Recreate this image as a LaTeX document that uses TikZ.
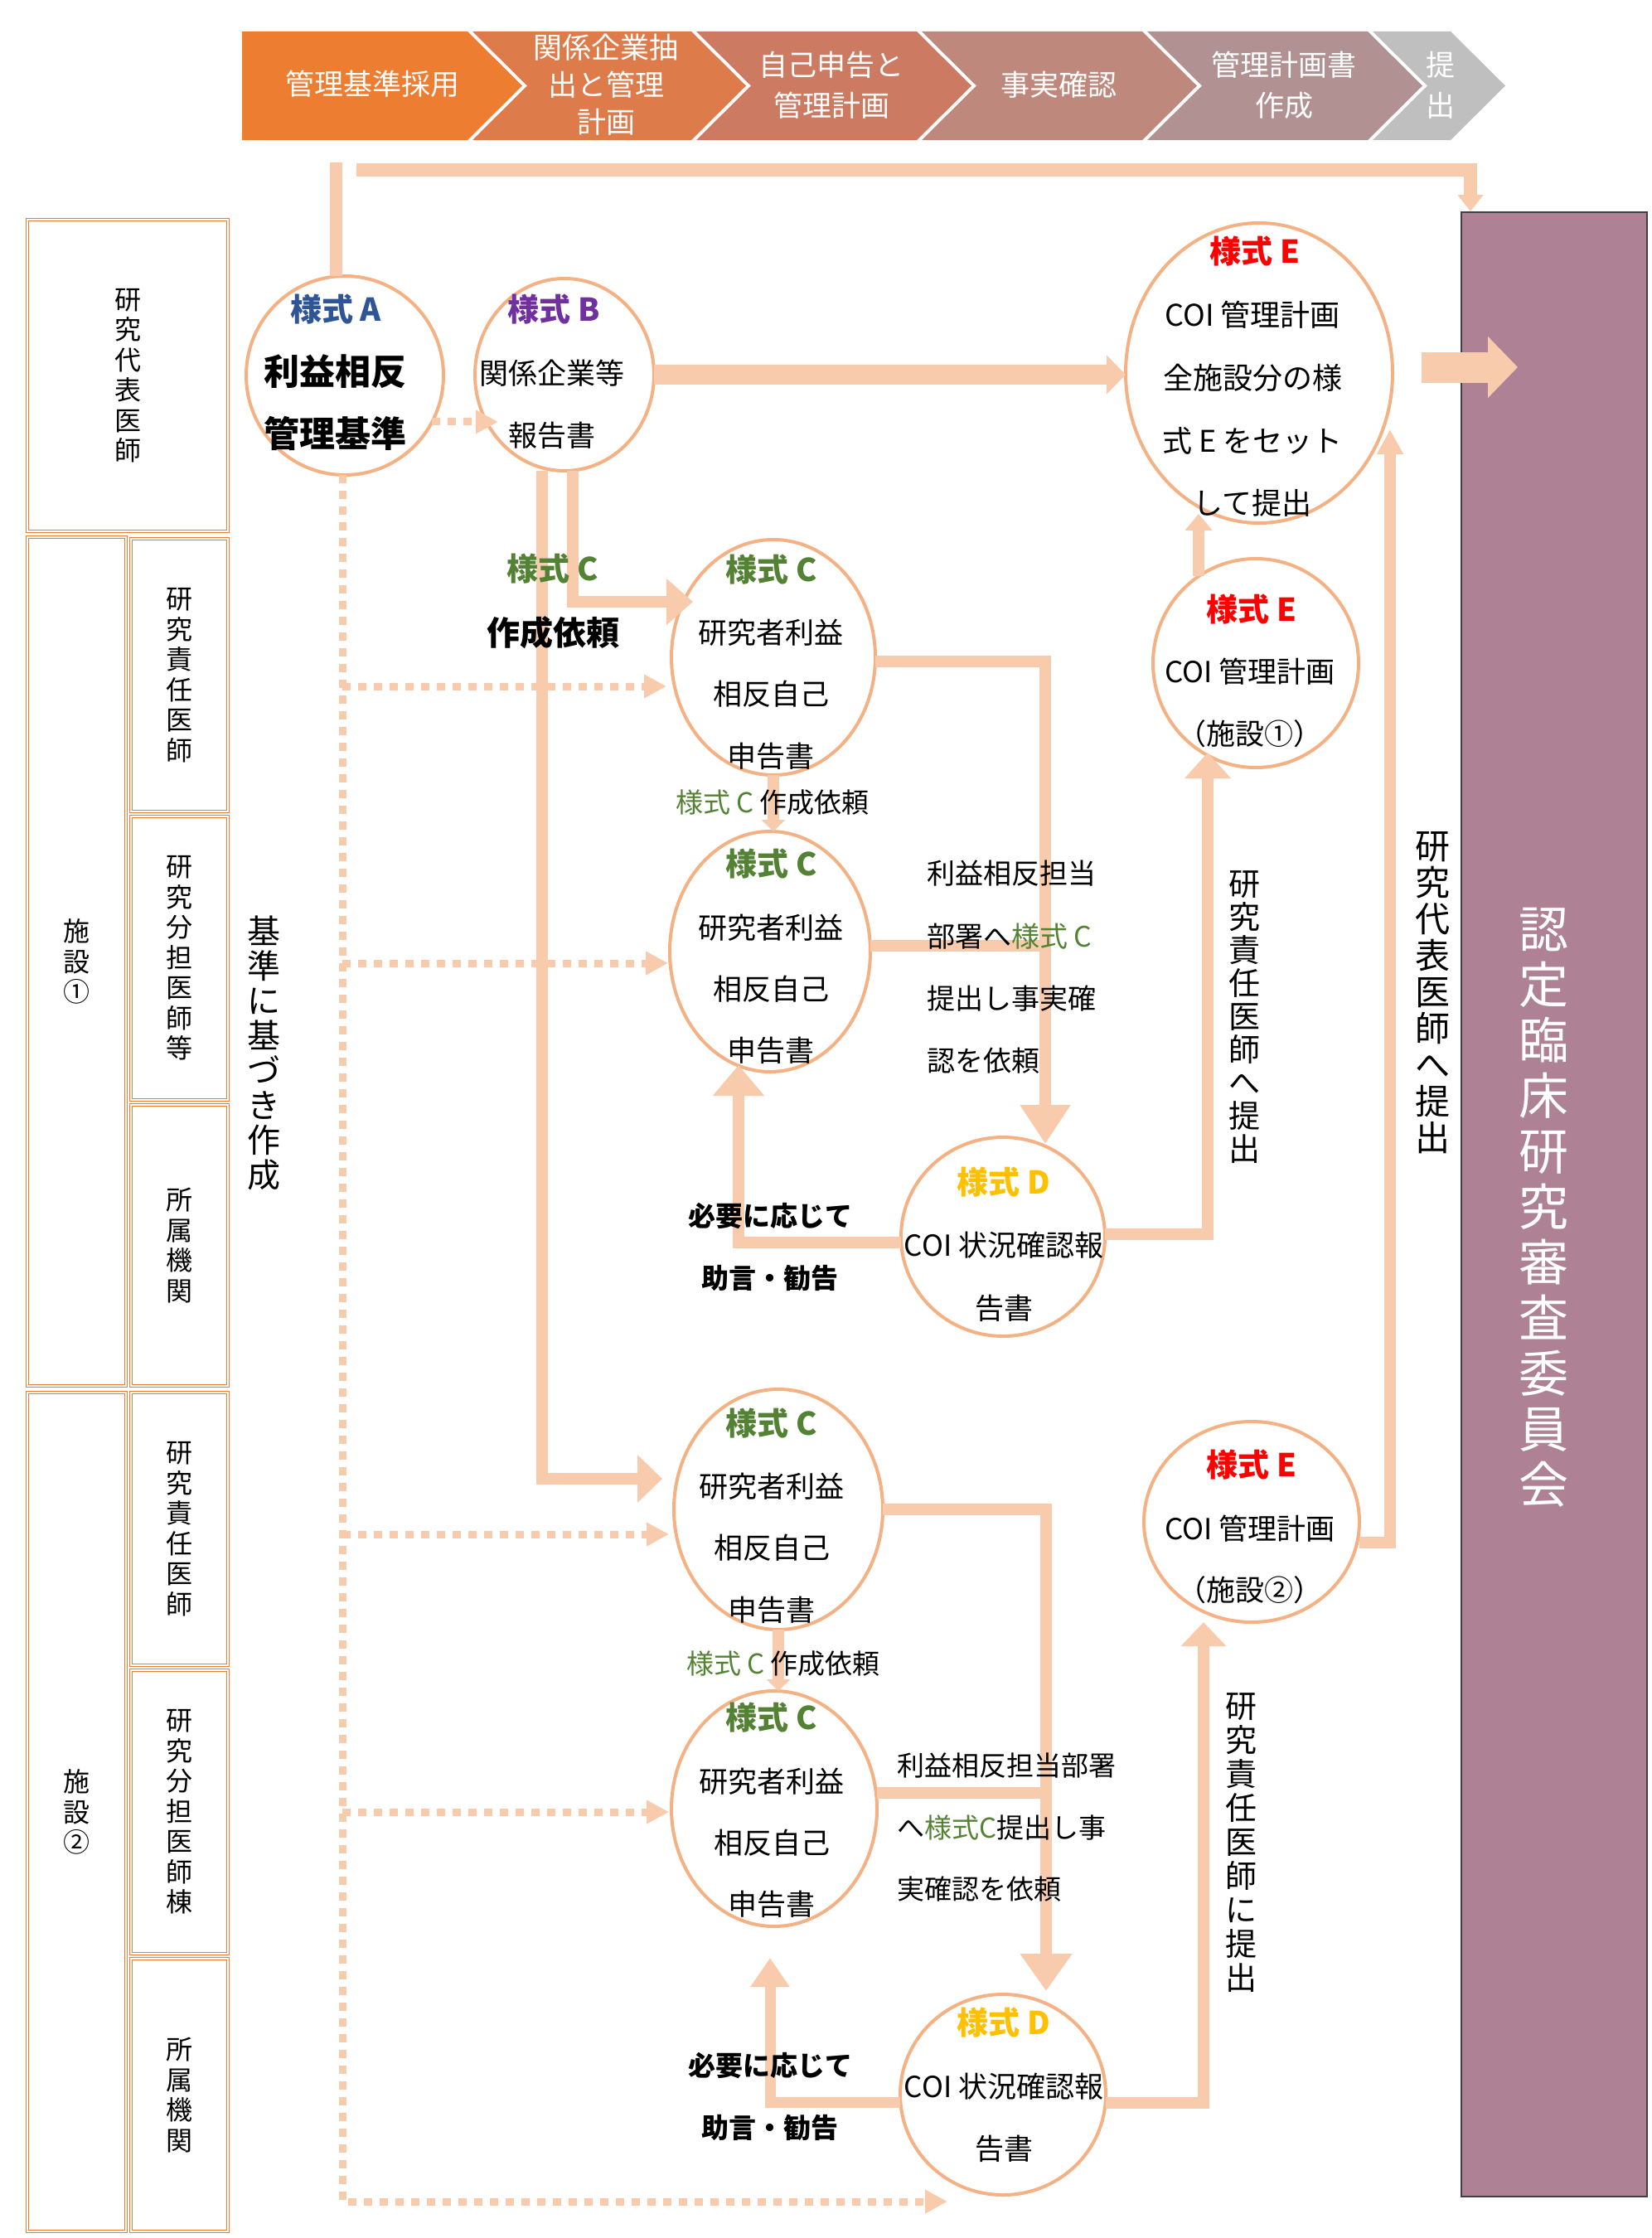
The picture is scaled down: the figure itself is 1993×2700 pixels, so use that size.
\documentclass[tikz,border=0pt]{standalone}
\usepackage{fontspec}
\setmainfont{Noto Sans CJK JP}
\setsansfont{Noto Sans CJK JP}
\usetikzlibrary{shapes.geometric,arrows.meta}
\definecolor{barc}{HTML}{F8CBAD}
\definecolor{ering}{HTML}{F4B183}
\definecolor{tabc}{HTML}{ED7D31}
\definecolor{cmp}{RGB}{174,129,148}
\definecolor{boxline}{HTML}{3F3F3F}
\definecolor{fA}{HTML}{2F5597}
\definecolor{fB}{HTML}{7030A0}
\definecolor{fC}{HTML}{548235}
\definecolor{fD}{HTML}{FFC000}
\definecolor{fE}{HTML}{FF0000}
\definecolor{chA}{HTML}{ED7D31}
\definecolor{chB}{HTML}{DE7B4B}
\definecolor{chC}{HTML}{CC7B62}
\definecolor{chD}{HTML}{BE897C}
\definecolor{chE}{HTML}{B19191}
\definecolor{chF}{HTML}{BFBFBF}
\newcommand{\myfs}[2]{\fontsize{#1}{#2}\selectfont}
\tikzset{
  oval/.style={ellipse, draw=ering, line width=4pt, fill=white, inner sep=0pt, outer sep=0pt},
  cell/.style={rectangle, draw=tabc, double=white, double distance=1.6pt, line width=1.3pt,
               inner sep=0pt, align=center, font=\myfs{32}{36.5}},
  bar/.style={draw=barc, line width=14pt},
  dots/.style={draw=barc, line width=9pt, dash pattern=on 10pt off 9pt,
               -{Triangle[width=27pt,length=27pt]}},
  form/.style={font=\bfseries\myfs{38}{40}, inner sep=0pt},
  body/.style={font=\myfs{35}{75}, align=center, inner sep=0pt},
  chev/.style={text=white, font=\myfs{35}{45}, align=center, inner sep=0pt},
  vtxt/.style={align=center, inner sep=0pt},
}
\begin{document}
\begin{tikzpicture}[x=1pt,y=-1pt]
\useasboundingbox (0,0) rectangle (1993,2700);

% ---------- chevron band ----------
\fill[chA] (292,38) -- (564,38) -- (630,103.5) -- (564,169) -- (292,169) -- cycle;
\fill[chB] (570,38) -- (834,38) -- (900,103.5) -- (834,169) -- (570,169) -- (636,103.5) -- cycle;
\fill[chC] (840,38) -- (1106,38) -- (1172,103.5) -- (1106,169) -- (840,169) -- (906,103.5) -- cycle;
\fill[chD] (1112,38) -- (1378,38) -- (1444,103.5) -- (1378,169) -- (1112,169) -- (1178,103.5) -- cycle;
\fill[chE] (1384,38) -- (1650,38) -- (1716,103.5) -- (1650,169) -- (1384,169) -- (1450,103.5) -- cycle;
\fill[chF] (1656,38) -- (1750,38) -- (1816,103.5) -- (1750,169) -- (1656,169) -- (1722,103.5) -- cycle;
\node[chev] (h1) at (449,101) {管理基準採用};
\node[chev] (h2) at (731,102) {関係企業抽\\出と管理\\計画};
\node[chev, font=\myfs{35}{49}] (h3) at (1003,102.5) {自己申告と\\管理計画};
\node[chev] (h4) at (1277,102) {事実確認};
\node[chev, font=\myfs{35}{49}] (h5) at (1549,102.5) {管理計画書\\作成};
\node[chev, font=\myfs{35}{49}] (h6) at (1738,102.5) {提\\出};

% ---------- left table ----------
\node[cell, minimum width=242pt, minimum height=376pt] (r0) at (154,453) {研\\究\\代\\表\\医\\師};
\node[cell, minimum width=119pt, minimum height=1024pt] (f1) at (92.5,1160) {施\\設\\①};
\node[cell, minimum width=117pt, minimum height=329pt] (f1a) at (216.5,814.5) {研\\究\\責\\任\\医\\師};
\node[cell, minimum width=117pt, minimum height=342pt] (f1b) at (216.5,1156) {研\\究\\分\\担\\医\\師\\等};
\node[cell, minimum width=117pt, minimum height=339pt] (f1c) at (216.5,1502.5) {所\\属\\機\\関};
\node[cell, minimum width=119pt, minimum height=1012pt] (f2) at (92.5,2186) {施\\設\\②};
\node[cell, minimum width=117pt, minimum height=329pt] (f2a) at (216.5,1844.5) {研\\究\\責\\任\\医\\師};
\node[cell, minimum width=117pt, minimum height=342pt] (f2b) at (216.5,2186) {研\\究\\分\\担\\医\\師\\棟};
\node[cell, minimum width=117pt, minimum height=329pt] (f2c) at (216.5,2527.5) {所\\属\\機\\関};

% ---------- committee box ----------
\node[draw=boxline, line width=2pt, fill=cmp, minimum width=224pt, minimum height=2394pt,
      inner sep=0pt] (R) at (1875,1453) {};

% ---------- ellipses ----------
\node[oval, minimum width=238pt, minimum height=240pt] (A) at (416,453) {};
\node[oval, minimum width=216pt, minimum height=232pt] (B) at (681,452) {};
\node[oval, minimum width=322pt, minimum height=362pt] (E0) at (1519,450) {};
\node[oval, minimum width=248pt, minimum height=252pt] (E1) at (1515,800) {};
\node[oval, minimum width=246pt, minimum height=284pt] (C1) at (933,793) {};
\node[oval, minimum width=242pt, minimum height=290pt] (C2) at (929,1148) {};
\node[oval, minimum width=246pt, minimum height=240pt] (D1) at (1210,1492) {};
\node[oval, minimum width=260pt, minimum height=242pt] (E2) at (1510,1836) {};
\node[oval, minimum width=252pt, minimum height=290pt] (C3) at (939,1821) {};
\node[oval, minimum width=248pt, minimum height=284pt] (C4) at (934,2182) {};
\node[oval, minimum width=248pt, minimum height=242pt] (D2) at (1210,2527) {};

% ---------- connectors ----------
\coordinate (aTop) at (405,196);
\draw[bar, line width=15pt] (aTop) -- (aTop |- A.north);
\coordinate (topStart) at (430,205);
\draw[bar, line width=16pt, -{Triangle[width=30pt,length=20pt]}]
  (topStart) -| ([xshift=12pt]R.north west);
\draw[bar, line width=24pt, -{Triangle[width=46pt,length=23pt]}] (B.east) -- (B.east -| E0.west);
\coordinate (inStart) at (1715,443);
\draw[bar, line width=37pt, -{Triangle[width=72pt,length=36pt]}, shorten >=-69pt]
  (inStart) -- (inStart -| R.west);

% dotted
\draw[dots, shorten >=-28pt] (A.-28) -- (A.-28 -| B.west);
\coordinate (dc) at (413,2656);
\draw[dots, shorten >=67pt] ([xshift=-3pt]A.south) -- (dc) -- (dc -| D2.south);
\coordinate (j1) at (413,828);
\coordinate (j2) at (413,1162);
\coordinate (j3) at (413,1851);
\coordinate (j4) at (413,2186);
\draw[dots, shorten >=6pt] (j1) -- (j1 -| C1.west);
\draw[dots, shorten >=2pt] (j2) -- (j2 -| C2.west);
\draw[dots, shorten >=6pt] (j3) -- (j3 -| C3.west);
\draw[dots, shorten >=3pt] (j4) -- (j4 -| C4.west);

% B to C
\draw[bar, -{Triangle[width=54pt,length=32pt]}, shorten >=-26pt]
  ([xshift=10pt]B.south) |- ([yshift=67pt]C1.west);
\draw[bar, -{Triangle[width=56pt,length=30pt]}, shorten >=14pt]
  ([xshift=-27pt]B.south) |- ([yshift=37pt]C3.west);
% C to C
\draw[bar, -{Triangle[width=28pt,length=14pt]}] (C1.south) -- (C1.south |- C2.north);
\draw[bar, -{Triangle[width=28pt,length=14pt]}] (C3.south) -- (C3.south |- C4.north);
% facility 1
\draw[bar, -{Triangle[width=58pt,length=47pt]}]
  ([yshift=-5pt]C1.east) -| ([xshift=51pt,yshift=-8pt]D1.north);
\coordinate (m1) at (1261,1141);
\draw[bar] ([yshift=7pt]C2.east) -- (m1);
\draw[bar, -{Triangle[width=60pt,length=37pt]}, shorten >=-8pt]
  ([yshift=-7pt]D1.west) -| ([xshift=-38pt]C2.south);
\draw[bar, -{Triangle[width=54pt,length=31pt]}, shorten >=-18pt]
  ([yshift=3pt]D1.east) -| ([xshift=-58pt]E1.south);
\draw[bar, -{Triangle[width=32pt,length=20pt]}, shorten >=-11pt]
  ([xshift=-69pt,yshift=-21pt]E1.north) -- ([xshift=-73pt]E0.south);
\draw[bar, -{Triangle[width=30pt,length=30pt]}]
  ([yshift=-25pt]E2.east) -| ([xshift=-3pt,yshift=-68pt]E0.east);
% facility 2
\draw[bar, -{Triangle[width=60pt,length=45pt]}]
  (C3.east) -| ([xshift=52pt,yshift=4pt]D2.north);
\coordinate (m2) at (1262,2163);
\draw[bar] ([yshift=19pt]C4.east) -- (m2);
\draw[bar, line width=13pt, -{Triangle[width=45pt,length=35pt]}, shorten >=38pt]
  ([yshift=-9pt]D2.west) -| ([xshift=-5pt]C4.south);
\draw[bar, -{Triangle[width=53pt,length=29pt]}]
  ([yshift=-10pt]D2.east) -| ([xshift=-58pt]E2.south);

% ---------- texts ----------
\node[form, text=fA] (tA) at (405,373) {様式 A};
\node[body, font=\bfseries\myfs{43}{75}] (tA2) at (404,485.5) {利益相反\\管理基準};
\node[form, text=fB] (tB) at (668,373) {様式 B};
\node[body] (tB2) at (666,487.5) {関係企業等\\報告書};
\node[form, text=fE] (tE0) at (1514,303) {様式 E};
\node[body, font=\myfs{36}{75.6}] (tE02) at (1511,493.5) {COI 管理計画\\全施設分の様\\式 E をセット\\して提出};
\node[form, text=fE] (tE1) at (1510,735) {様式 E};
\node[body] (tE12) at (1508,847.5) {COI 管理計画\\（施設①）};
\node[form, text=fC] (tC1) at (931,687) {様式 C};
\node[body, font=\myfs{35}{74.5}] (tC12) at (930,837.5) {研究者利益\\相反自己\\申告書};
\node[form, text=fC] (tC2) at (931,1042) {様式 C};
\node[body, font=\myfs{35}{74}] (tC22) at (930,1193) {研究者利益\\相反自己\\申告書};
\node[form, text=fD] (tD1) at (1211,1426) {様式 D};
\node[body, font=\myfs{35}{76}] (tD12) at (1211,1540) {COI 状況確認報\\告書};
\node[form, text=fE] (tE2) at (1510,1767) {様式 E};
\node[body, font=\myfs{35}{74}] (tE22) at (1508,1881) {COI 管理計画\\（施設②）};
\node[form, text=fC] (tC3) at (931,1717) {様式 C};
\node[body, font=\myfs{35}{74.5}] (tC32) at (931,1867.5) {研究者利益\\相反自己\\申告書};
\node[form, text=fC] (tC4) at (931,2072) {様式 C};
\node[body, font=\myfs{35}{74}] (tC42) at (931,2223) {研究者利益\\相反自己\\申告書};
\node[form, text=fD] (tD2) at (1211,2440) {様式 D};
\node[body, font=\myfs{35}{75}] (tD22) at (1211,2554.5) {COI 状況確認報\\告書};

\node[form, text=fC] (lC) at (667,686) {様式 C};
\node[body, font=\bfseries\myfs{40}{40}] (lC2) at (667,763) {作成依頼};
\node[body, font=\myfs{33}{40}] (lq1) at (932,968) {{\color{fC}様式 C} 作成依頼};
\node[body, font=\myfs{33}{40}] (lq2) at (945,2007) {{\color{fC}様式 C} 作成依頼};
\node[body, font=\bfseries\myfs{33}{75}] (adv1) at (929,1504.5) {必要に応じて\\助言・勧告};
\node[body, font=\bfseries\myfs{33}{75}] (adv2) at (929,2529.5) {必要に応じて\\助言・勧告};
\node[body, font=\myfs{34}{75.3}, align=left, anchor=west] (req1) at (1118,1167)
  {利益相反担当\\部署へ{\color{fC}様式 C}\\提出し事実確\\認を依頼};
\node[body, font=\myfs{33}{74.5}, align=left, anchor=west] (req2) at (1082,2204.5)
  {利益相反担当部署\\へ{\color{fC}様式C}提出し事\\実確認を依頼};

% vertical labels
\node[vtxt, font=\myfs{40}{42}] (v1) at (318,1270) {基\\準\\に\\基\\づ\\き\\作\\成};
\node[vtxt, font=\myfs{38}{40}] (v2) at (1501,1227) {研\\究\\責\\任\\医\\師\\へ\\提\\出};
\node[vtxt, font=\myfs{42}{44}] (v3) at (1728,1198) {研\\究\\代\\表\\医\\師\\へ\\提\\出};
\node[vtxt, font=\myfs{38}{41}] (v4) at (1497,2223) {研\\究\\責\\任\\医\\師\\に\\提\\出};
\node[vtxt, font=\myfs{60}{67}, text=white] (Rt) at (1862,1457) {認\\定\\臨\\床\\研\\究\\審\\査\\委\\員\\会};
\end{tikzpicture}
\end{document}
